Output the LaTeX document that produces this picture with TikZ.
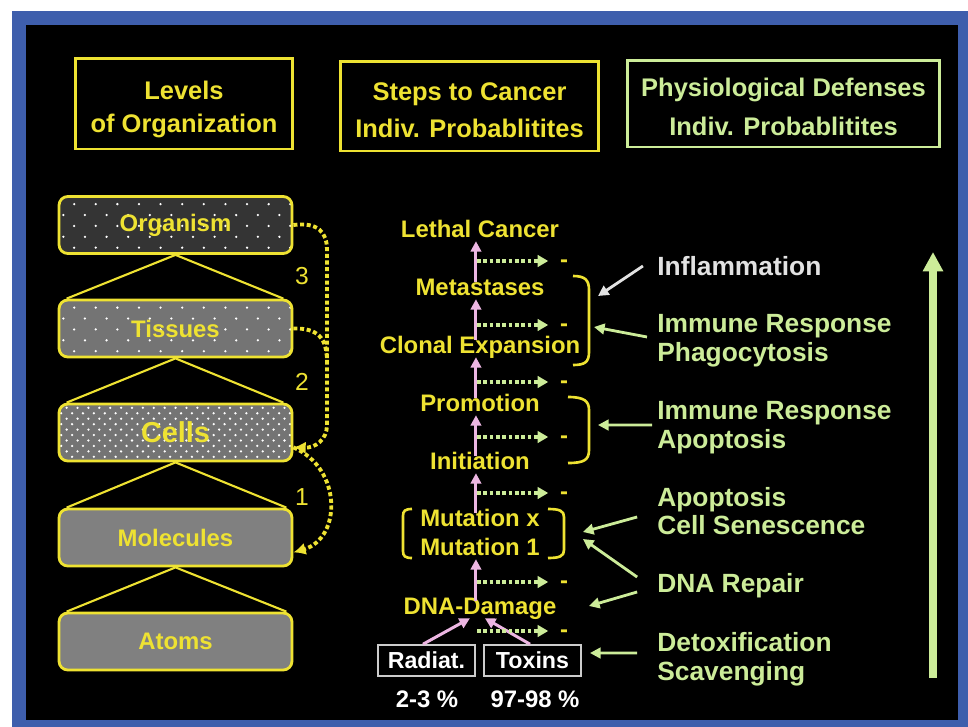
\documentclass[tikz,border=0pt]{standalone}
\usepackage{fontspec}
\setmainfont{Liberation Sans}
\usetikzlibrary{arrows.meta}

\definecolor{ylw}{RGB}{238,226,50}
\definecolor{grn}{RGB}{204,236,153}
\definecolor{pnk}{RGB}{236,182,226}
\definecolor{frameblue}{RGB}{62,94,172}
\definecolor{lgray}{RGB}{226,226,226}
\definecolor{orggray}{RGB}{52,52,52}
\definecolor{tisgray}{RGB}{116,116,116}
\definecolor{molgray}{RGB}{128,128,128}

% white dots in a staggered grid: cols, rows, dx, dy
\newcommand{\lvldots}[4]{%
  \foreach \r in {0,...,#2}{\foreach \c in {0,...,#1}{%
    \fill[white] ([shift={({(0.2+\c+0.5*mod(\r+1,2))*#3},{-(0.7+\r)*#4})}]path picture bounding box.north west) circle[radius=0.72pt];}}}

\tikzset{
  headbox/.style={draw, line width=1.7pt},
  header/.style={align=center, inner sep=0pt, font=\bfseries\fontsize{14.5}{18.8}\selectfont},
  level/.style={draw=ylw, line width=1.6pt, rounded corners=5pt, minimum width=4.66cm, minimum height=1.14cm, text=ylw, font=\bfseries\fontsize{13.6}{16}\selectfont},
  stage/.style={text=ylw, inner sep=0pt, text height=0.75em, text depth=0.2em, font=\bfseries\fontsize{13.6}{16}\selectfont},
  dashmark/.style={text=ylw, inner sep=0pt, text height=0.3em, text depth=0pt, font=\bfseries\fontsize{13.6}{16}\selectfont},
  source/.style={draw=white!80!black, line width=0.9pt, text=white, minimum width=1.94cm, minimum height=0.62cm, inner sep=0pt, font=\bfseries\fontsize{13.2}{16}\selectfont},
  defense/.style={text=grn, anchor=west, align=left, inner sep=0pt, font=\bfseries\fontsize{15}{16.4}\selectfont},
  tri/.style={ylw, line width=1.2pt},
  bracket/.style={ylw, line width=1.5pt},
  climb/.style={ylw, line width=2.2pt, dash pattern=on 2.3pt off 1.5pt},
  promote/.style={pnk, line width=1.7pt, -{Triangle[length=6pt,width=6pt]}},
  block/.style={grn, line width=1.8pt, dash pattern=on 2.1pt off 1.5pt, -{Triangle[length=6pt,width=6.5pt]}},
  defend/.style={grn, line width=1.6pt, -{Triangle[length=6pt,width=6pt]}},
}

\begin{document}
\begin{tikzpicture}[x=0.02cm,y=-0.02cm]
\useasboundingbox (0,0) rectangle (968,727);
\fill[white] (0,0) rectangle (968,727);
\fill[frameblue] (12,11) rectangle (968,727);
\fill[black] (26,25) rectangle (958,720);

% column heads
\node[headbox, draw=ylw, minimum width=4.36cm, minimum height=1.82cm] (hlev) at (184,103.5) {};
\node[headbox, draw=ylw, minimum width=5.18cm, minimum height=1.80cm] (hstep) at (469.5,106) {};
\node[headbox, draw=grn, minimum width=6.26cm, minimum height=1.74cm] (hdef) at (783.5,103.5) {};
\node[header, text=ylw] (hlevtext) at (184,109.5) {Levels\\of Organization};
\node[header, text=ylw] (hsteptext) at (469.5,110) {Steps to Cancer\\[2pt]Indiv. Probablitites};
\node[header, text=grn] (hdeftext) at (783.5,107) {Physiological Defenses\\[3pt]Indiv. Probablitites};

% levels of organization
\node[level, fill=orggray, path picture={\lvldots{11}{5}{12.3pt}{6.2pt}}] (org) at (175.5,225) {Organism};
\node[level, fill=tisgray, path picture={\lvldots{11}{5}{12.3pt}{6.2pt}}] (tis) at (175.5,328.5) {Tissues};
\node[level, fill=tisgray, path picture={\lvldots{21}{10}{6.2pt}{3.1pt}}, font=\bfseries\fontsize{16.4}{18}\selectfont] (cells) at (175.5,432.5) {Cells};
\node[level, fill=molgray] (mol) at (175.5,537.5) {Molecules};
\node[level, fill=molgray] (atoms) at (175.5,641.5) {Atoms};

\draw[tri] ([xshift=0.18cm]tis.north west) -- (org.south) -- ([xshift=-0.2cm]tis.north east);
\draw[tri] ([xshift=0.18cm]cells.north west) -- (tis.south) -- ([xshift=-0.2cm]cells.north east);
\draw[tri] ([xshift=0.18cm]mol.north west) -- (cells.south) -- ([xshift=-0.14cm]mol.north east);
\draw[tri] ([xshift=0.18cm]atoms.north west) -- (mol.south) -- ([xshift=-0.14cm]atoms.north east);

\draw[climb, -{Latex[length=7pt,width=7pt]}] (org.east) .. controls (318,222) and (327,232) .. (327,250) -- (327,425) .. controls (327,440) and (315,448) .. ([yshift=-8.5pt]cells.east);
\draw[climb] (tis.east) .. controls (318,328) and (327,338) .. (327,362);
\draw[climb, -{Latex[length=7pt,width=7pt]}] ([yshift=-8.5pt]cells.east) .. controls (342,468) and (342,538) .. ([yshift=-8.5pt]mol.east);

\node[text=ylw, font=\fontsize{14}{16}\selectfont] (n3) at (302,276) {3};
\node[text=ylw, font=\fontsize{14}{16}\selectfont] (n2) at (302,382) {2};
\node[text=ylw, font=\fontsize{14}{16}\selectfont] (n1) at (302,497) {1};

% steps to cancer
\node[stage] (lethal) at (480,232.5) {Lethal Cancer};
\node[stage] (meta) at (480,290.5) {Metastases};
\node[stage] (clonal) at (480,348.5) {Clonal Expansion};
\node[stage] (promo) at (480,406.5) {Promotion};
\node[stage] (init) at (480,464.5) {Initiation};
\node[stage] (mutx) at (480,521.5) {Mutation x};
\node[stage] (mutone) at (480,550.5) {Mutation 1};
\node[stage] (dna) at (480,609.5) {DNA-Damage};
\node[source] (radiat) at (426.5,660.5) {Radiat.};
\node[source] (toxins) at (532.5,660.5) {Toxins};
\node[text=white, font=\bfseries\fontsize{13.6}{16}\selectfont] (pradiat) at (427,699) {2-3 \%};
\node[text=white, font=\bfseries\fontsize{13.6}{16}\selectfont] (ptoxins) at (535,699) {97-98 \%};

\draw[promote] ([xshift=-2.3pt]meta.north) -- ([xshift=-2.3pt]lethal.south);
\draw[promote] ([xshift=-2.3pt]clonal.north) -- ([xshift=-2.3pt]meta.south);
\draw[promote] ([xshift=-2.3pt]promo.north) -- ([xshift=-2.3pt]clonal.south);
\draw[promote] ([xshift=-2.3pt]init.north) -- ([xshift=-2.3pt]promo.south);
\draw[promote] ([xshift=-2.3pt]mutx.north) -- ([xshift=-2.3pt]init.south);
\draw[promote] ([xshift=-2.3pt]dna.north) -- ([xshift=-2.3pt]mutone.south);
\draw[promote] ([xshift=-2pt]radiat.north) -- ([xshift=-5.7pt]dna.south);
\draw[promote] ([xshift=-1.4pt]toxins.north) -- ([xshift=2.8pt]dna.south);

\foreach \y [count=\i] in {261,325,382,437,493,582,631}{
  \coordinate (s\i) at (477,\y);
  \node[dashmark] (d\i) at (564,\y+3.4) {-};
  \draw[block, shorten >=6.5pt] (s\i) -- (s\i -| d\i.west);
}

\draw[bracket] (573,276) .. controls (585,276) and (589,280) .. (589,290) -- (589,352) .. controls (589,362) and (585,365) .. (573,365);
\draw[bracket] (568,397) .. controls (584,397) and (589,401) .. (589,410) -- (589,450) .. controls (589,460) and (584,463) .. (568,463);
\draw[bracket] (412,509) .. controls (405,509) and (403,511) .. (403,516) -- (403,551) .. controls (403,556) and (405,558) .. (412,558);
\draw[bracket] (548,509) .. controls (560,509) and (564,511) .. (564,517) -- (564,550) .. controls (564,556) and (560,558) .. (548,558);

% physiological defenses
\node[defense, text=lgray] (infl) at (657,266) {Inflammation};
\node[defense] (irphago) at (657,340.5) {Immune Response\\Phagocytosis};
\node[defense] (irapop) at (657,427.5) {Immune Response\\Apoptosis};
\node[defense] (apop) at (657,511) {Apoptosis\\Cell Senescence};
\node[defense] (repair) at (657,586) {DNA Repair};
\node[defense] (detox) at (657,659) {Detoxification\\Scavenging};

\coordinate (t1) at (598,296);
\coordinate (t2) at (594,327);
\coordinate (t3) at (598,425);
\coordinate (t4) at (583,532);
\coordinate (t5) at (583,539);
\coordinate (t6) at (589,606);
\coordinate (t7) at (590,653);

\draw[defend, lgray] ([xshift=-8pt]infl.west) -- (t1);
\draw[defend] ([shift={(-5.7pt,2pt)}]irphago.west) -- (t2);
\draw[defend] ([shift={(-2.8pt,1.4pt)}]irapop.west) -- (t3);
\draw[defend] ([shift={(-11.3pt,-3.4pt)}]apop.west) -- (t4);
\draw[defend] ([shift={(-11.3pt,5.1pt)}]repair.west) -- (t5);
\draw[defend] ([shift={(-11.3pt,-3.4pt)}]repair.west) -- (t6);
\draw[defend] ([shift={(-11.3pt,3.4pt)}]detox.west) -- (t7);

\coordinate (gbot) at (933,678);
\coordinate (gtop) at (933,252);
\draw[grn, line width=4pt, -{Triangle[length=11pt,width=11pt]}] (gbot) -- (gtop);
\end{tikzpicture}
\end{document}
